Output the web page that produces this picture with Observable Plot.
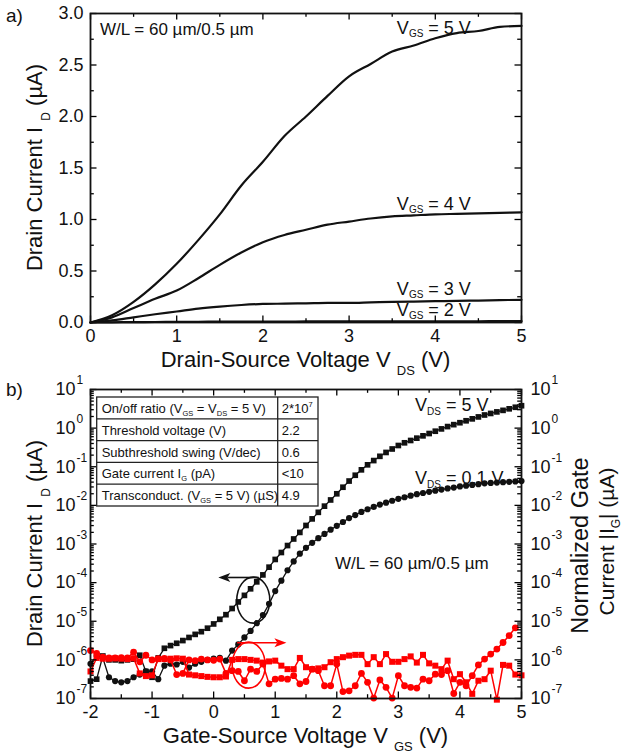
<!DOCTYPE html>
<html>
<head>
<meta charset="utf-8">
<script src="https://cdn.jsdelivr.net/npm/d3@7"></script>
<script src="https://cdn.jsdelivr.net/npm/@observablehq/plot@0.6"></script>
<style>
html,body{margin:0;padding:0;background:#fff;}
#wrap{width:622px;height:756px;overflow:hidden;background:#fff;}
#wrap svg{display:block;overflow:visible !important;}
</style>
</head>
<body>
<div id="wrap"></div>
<script>
const FONT = "'Liberation Sans', Arial, Helvetica, sans-serif";

// ---------------- panel a) output characteristics ----------------
const vds    = [0,0.25,0.5,0.75,1,1.25,1.5,1.75,2,2.25,2.5,2.75,3,3.25,3.5,3.75,4,4.25,4.5,4.75,5];
const idVgs5 = [0,0.07,0.2,0.37,0.57,0.8,1.05,1.33,1.56,1.81,2.0,2.2,2.39,2.51,2.63,2.69,2.76,2.81,2.83,2.87,2.88];
const idVgs4 = [0,0.05,0.14,0.23,0.31,0.43,0.56,0.68,0.78,0.85,0.9,0.95,0.98,1.01,1.03,1.04,1.05,1.055,1.06,1.065,1.07];
const idVgs3 = [0,0.02,0.05,0.08,0.107,0.135,0.155,0.17,0.18,0.183,0.186,0.19,0.19,0.195,0.2,0.203,0.207,0.21,0.213,0.217,0.22];
const idVgs2 = [0,0.002,0.004,0.005,0.006,0.007,0.008,0.008,0.009,0.009,0.01,0.01,0.01,0.011,0.011,0.011,0.012,0.012,0.012,0.013,0.013];
const aXTicks = [0,1,2,3,4,5];
const aXMinor = [0.5,1.5,2.5,3.5,4.5];
const aYTicks = [0,0.5,1,1.5,2,2.5,3];
const aYMinor = [0.25,0.75,1.25,1.75,2.25,2.75];
const aCurveLabels = [
  {vgs:"5", x:3.56, y:2.80},
  {vgs:"4", x:3.56, y:1.087},
  {vgs:"3", x:3.56, y:0.262},
  {vgs:"2", x:3.56, y:0.058}
];

// ---------------- panel b) transfer characteristics ----------------
const vgs = [-2.0,-1.9,-1.8,-1.7,-1.6,-1.5,-1.4,-1.3,-1.2,-1.1,-1.0,-0.9,-0.8,-0.7,-0.6,-0.5,-0.4,-0.3,-0.2,-0.1,
  0.0,0.1,0.2,0.3,0.4,0.5,0.6,0.7,0.8,0.9,1.0,1.1,1.2,1.3,1.4,1.5,1.6,1.7,1.8,1.9,
  2.0,2.1,2.2,2.3,2.4,2.5,2.6,2.7,2.8,2.9,3.0,3.1,3.2,3.3,3.4,3.5,3.6,3.7,3.8,3.9,
  4.0,4.1,4.2,4.3,4.4,4.5,4.6,4.7,4.8,4.9,5.0];
// log10 of current (µA)
const idVds5Exp = [-6.55,-6.5,-5.9,-6.0,-6.0,-6.02,-6.0,-5.98,-5.88,-6.3,-6.45,-5.95,-5.7,-5.63,-5.57,-5.5,-5.42,-5.34,-5.27,-5.18,
  -5.07,-4.95,-4.83,-4.67,-4.5,-4.33,-4.16,-3.98,-3.8,-3.6,-3.4,-3.22,-3.04,-2.87,-2.7,-2.52,-2.35,-2.18,-2.02,-1.86,
  -1.7,-1.53,-1.37,-1.22,-1.08,-0.95,-0.84,-0.73,-0.63,-0.54,-0.45,-0.38,-0.32,-0.26,-0.2,-0.14,-0.08,-0.02,0.04,0.09,
  0.14,0.19,0.24,0.29,0.34,0.38,0.42,0.46,0.5,0.54,0.58];
const idVds01Exp = [-6.1,-5.9,-5.95,-6.45,-6.55,-6.58,-6.55,-6.45,-6.38,-6.3,-6.3,-6.5,-6.15,-6.1,-6.12,-6.05,-6.2,-6.1,-6.05,-6.0,
  -5.97,-5.95,-6.02,-5.76,-5.6,-5.42,-5.25,-5.05,-4.84,-4.55,-4.22,-3.95,-3.68,-3.45,-3.25,-3.1,-2.97,-2.85,-2.74,-2.63,
  -2.53,-2.43,-2.33,-2.25,-2.17,-2.1,-2.04,-1.98,-1.93,-1.88,-1.83,-1.79,-1.75,-1.71,-1.68,-1.65,-1.62,-1.59,-1.56,-1.54,
  -1.51,-1.49,-1.47,-1.45,-1.43,-1.42,-1.41,-1.4,-1.39,-1.38,-1.37];
const igVds5Exp = [-6.3,-5.95,-5.97,-5.97,-5.96,-5.97,-5.98,-5.96,-6.35,-6.42,-6.4,-5.98,-5.98,-5.97,-5.96,-5.97,-6.38,-6.4,-6.42,-6.44,
  -6.45,-6.45,-6.43,-6.0,-5.98,-5.98,-6.0,-6.02,-6.07,-6.04,-6.02,-6.15,-6.24,-6.24,-5.95,-6.19,-6.24,-6.22,-6.19,-6.06,
  -5.98,-5.93,-5.89,-5.87,-5.87,-6.11,-5.93,-6.11,-5.85,-6.05,-6.05,-5.98,-5.91,-6.07,-5.87,-6.09,-6.15,-6.24,-6.02,-6.5,
  -6.37,-6.58,-6.88,-6.54,-6.5,-6.28,-7.03,-6.13,-6.15,-6.38,-6.4];
const igVds01Exp = [-5.76,-5.83,-5.93,-5.95,-5.95,-5.94,-5.95,-5.8,-6.05,-5.88,-6.0,-5.97,-5.96,-6.0,-6.38,-6.35,-6.0,-6.02,-5.98,-6.0,
  -6.01,-5.98,-6.35,-6.28,-6.3,-6.54,-6.24,-6.3,-6.11,-6.62,-6.5,-6.48,-6.5,-6.41,-6.62,-6.56,-6.24,-6.28,-6.67,-6.67,
  -6.11,-6.82,-6.8,-6.67,-6.35,-6.58,-6.99,-6.52,-6.71,-6.99,-6.41,-6.67,-6.71,-6.73,-6.5,-6.54,-6.37,-6.38,-6.28,-6.87,
  -6.58,-6.67,-6.41,-6.13,-5.98,-5.85,-5.72,-5.55,-5.37,-5.17,null];
const bXTicks = [-2,-1,0,1,2,3,4,5];
const bXMinor = [-1.5,-0.5,0.5,1.5,2.5,3.5,4.5];
const bDecades = [-7,-6,-5,-4,-3,-2,-1,0,1];
const bYMinor = [];
for (let k = -7; k < 1; k++) for (let m = 2; m <= 9; m++) bYMinor.push(m * Math.pow(10, k));

const tableRows = [
  [[{t:"On/off ratio (V"},{t:"GS",sub:1},{t:" = V"},{t:"DS",sub:1},{t:" = 5 V)"}], [{t:"2*10"},{t:"7",sup:1}]],
  [[{t:"Threshold voltage (V)"}], [{t:"2.2"}]],
  [[{t:"Subthreshold swing (V/dec)"}], [{t:"0.6"}]],
  [[{t:"Gate current I"},{t:"G",sub:1},{t:" (pA)"}], [{t:"<10"}]],
  [[{t:"Transconduct. (V"},{t:"GS",sub:1},{t:" = 5 V) (µS)"}], [{t:"4.9"}]]
];

// ---------------- helpers ----------------
const W = 622, ML = 90, MR = 101;
const RED = "#ff0000";

function boxTicks(xMaj, xMin, yMaj, yMin, pw, ph) {
  const L = 6.5, S = 3.8, o = {stroke: "#000", strokeWidth: 1.3};
  return [
    Plot.tickX(xMaj, {x: d => d, insetTop: ph - L, ...o}),
    Plot.tickX(xMaj, {x: d => d, insetBottom: ph - L, ...o}),
    Plot.tickX(xMin, {x: d => d, insetTop: ph - S, ...o}),
    Plot.tickX(xMin, {x: d => d, insetBottom: ph - S, ...o}),
    Plot.tickY(yMaj, {y: d => d, insetRight: pw - L, ...o}),
    Plot.tickY(yMaj, {y: d => d, insetLeft: pw - L, ...o}),
    Plot.tickY(yMin, {y: d => d, insetRight: pw - S, ...o}),
    Plot.tickY(yMin, {y: d => d, insetLeft: pw - S, ...o})
  ];
}

function scaleFn(chart, name) {
  const s = chart.scale(name);
  if (s && typeof s.apply === "function") return v => s.apply(v);
  const base = s.type === "log" ? d3.scaleLog() : d3.scaleLinear();
  return base.domain(s.domain).range(s.range);
}

function richText(g, parts, o) {
  const size = o.size, subSize = o.subSize || size * 0.6;
  const t = g.append("text")
    .attr("transform", `translate(${o.x},${o.y}) rotate(${o.rotate || 0})`)
    .attr("text-anchor", o.anchor || "start")
    .attr("font-family", FONT).attr("font-size", size)
    .attr("fill", o.fill || "#111")
    .style("white-space", "pre");
  let shift = 0;
  for (const p of parts) {
    const s = t.append("tspan").text(p.t);
    const target = p.sub ? (o.subShift != null ? o.subShift : size * 0.3)
                 : p.sup ? (o.supShift != null ? o.supShift : -size * 0.4) : 0;
    if (target - shift !== 0) s.attr("dy", target - shift);
    shift = target;
    if (p.sub || p.sup) s.attr("font-size", subSize);
    if (p.dx) s.attr("dx", p.dx);
  }
  return t;
}

function arrowHead(g, x1, y1, x2, y2, color) {
  const ang = Math.atan2(y2 - y1, x2 - x1);
  const L = 12, Wd = 4.6, notch = 3;
  const pts = [[0, 0], [-L, -Wd], [-L + notch, 0], [-L, Wd]].map(([a, b]) => [
    x2 + a * Math.cos(ang) - b * Math.sin(ang),
    y2 + a * Math.sin(ang) + b * Math.cos(ang)
  ]);
  g.append("line")
    .attr("x1", x1).attr("y1", y1)
    .attr("x2", x2 - (L - notch) * Math.cos(ang)).attr("y2", y2 - (L - notch) * Math.sin(ang))
    .attr("stroke", color).attr("stroke-width", 1.6);
  g.append("path").attr("d", "M" + pts.map(p => p.join(",")).join("L") + "Z").attr("fill", color);
}

const wrap = document.getElementById("wrap");

// ---------------- panel a ----------------
const aH = 380, aMT = 13, aMB = 58;
const aPW = W - ML - MR, aPH = aH - aMT - aMB;
const aData = [];
[["5", idVgs5], ["4", idVgs4], ["3", idVgs3], ["2", idVgs2]].forEach(([k, arr]) =>
  vds.forEach((x, i) => aData.push({x, y: arr[i], vgs: k})));

const chartA = Plot.plot({
  width: W, height: aH,
  marginLeft: ML, marginRight: MR, marginTop: aMT, marginBottom: aMB,
  style: {fontFamily: FONT, fontSize: "18px", background: "#fff", color: "#111", overflow: "visible"},
  x: {domain: [0, 5], ticks: aXTicks, tickSize: 0, tickPadding: 7, tickFormat: d => String(d), label: null},
  y: {domain: [0, 3], ticks: aYTicks, tickSize: 0, tickPadding: 7, tickFormat: d3.format(".1f"), label: null},
  marks: [
    Plot.line(aData, {x: "x", y: "y", z: "vgs", stroke: "#111", strokeWidth: 2.2, curve: "monotone-x"}),
    ...boxTicks(aXTicks, aXMinor, aYTicks, aYMinor, aPW, aPH),
    Plot.frame({stroke: "#111", strokeWidth: 1.8})
  ]
});
wrap.appendChild(chartA);
{
  const g = d3.select(chartA).append("g");
  const fx = scaleFn(chartA, "x"), fy = scaleFn(chartA, "y");
  richText(g, [{t: "a)"}], {x: 6, y: 22, size: 19});
  richText(g, [{t: "W/L = 60 µm/0.5 µm"}], {x: fx(0.116), y: fy(2.786), size: 17});
  for (const l of aCurveLabels) {
    richText(g, [{t: "V"}, {t: "GS", sub: 1}, {t: " = " + l.vgs + " V"}],
      {x: fx(l.x), y: fy(l.y), size: 18, subSize: 10, subShift: 3});
  }
  richText(g, [{t: "Drain-Source Voltage V "}, {t: "DS", sub: 1}, {t: " (V)"}],
    {x: ML + aPW / 2, y: 367, size: 22, subSize: 13, subShift: 8, anchor: "middle"});
  richText(g, [{t: "Drain Current I "}, {t: "D", sub: 1}, {t: " (µA)"}],
    {x: 42, y: aMT + aPH / 2, size: 22, subSize: 12, subShift: 8, anchor: "middle", rotate: -90});
}

// ---------------- panel b ----------------
const bH = 376, bMT = 9, bMB = 58;
const bPW = W - ML - MR, bPH = bH - bMT - bMB;
const mk = arr => vgs.map((x, i) => ({x, y: arr[i] == null ? null : Math.pow(10, arr[i])}));
const dSat = mk(idVds5Exp), dLin = mk(idVds01Exp), gSat = mk(igVds5Exp), gLin = mk(igVds01Exp);
const expLabel = d => d < 0 ? "-" + (-d) : String(d);

const chartB = Plot.plot({
  width: W, height: bH,
  marginLeft: ML, marginRight: MR, marginTop: bMT, marginBottom: bMB,
  style: {fontFamily: FONT, fontSize: "18px", background: "#fff", color: "#111", overflow: "visible"},
  x: {domain: [-2, 5], ticks: bXTicks, tickSize: 0, tickPadding: 7, tickFormat: d => d < 0 ? "-" + (-d) : String(d), label: null},
  y: {type: "log", domain: [1e-7, 10], axis: null},
  marks: [
    Plot.line(dSat, {x: "x", y: "y", stroke: "#111", strokeWidth: 1.3}),
    Plot.dot(dSat, {x: "x", y: "y", symbol: "square", r: 3.2, fill: "#111", stroke: "none"}),
    Plot.line(dLin, {x: "x", y: "y", stroke: "#111", strokeWidth: 1.3}),
    Plot.dot(dLin, {x: "x", y: "y", symbol: "circle", r: 3.1, fill: "#111", stroke: "none"}),
    Plot.line(gSat, {x: "x", y: "y", stroke: RED, strokeWidth: 1.5}),
    Plot.dot(gSat, {x: "x", y: "y", symbol: "square", r: 3.4, fill: RED, stroke: "none"}),
    Plot.line(gLin, {x: "x", y: "y", stroke: RED, strokeWidth: 1.5}),
    Plot.dot(gLin, {x: "x", y: "y", symbol: "circle", r: 3.4, fill: RED, stroke: "none"}),
    ...boxTicks(bXTicks, bXMinor, bDecades.map(d => Math.pow(10, d)), bYMinor, bPW, bPH),
    Plot.frame({stroke: "#111", strokeWidth: 1.8}),
    Plot.text(bDecades, {y: d => Math.pow(10, d), text: () => "10", frameAnchor: "left", textAnchor: "end", dx: -15, fontSize: 18}),
    Plot.text(bDecades, {y: d => Math.pow(10, d), text: expLabel, frameAnchor: "left", textAnchor: "start", dx: -14, dy: -9, fontSize: 12}),
    Plot.text(bDecades, {y: d => Math.pow(10, d), text: () => "10", frameAnchor: "right", textAnchor: "start", dx: 9, fontSize: 18}),
    Plot.text(bDecades, {y: d => Math.pow(10, d), text: expLabel, frameAnchor: "right", textAnchor: "start", dx: 30, dy: -9, fontSize: 12})
  ]
});
wrap.appendChild(chartB);
{
  const g = d3.select(chartB).append("g");
  const fx = scaleFn(chartB, "x"), fy = scaleFn(chartB, "y");
  richText(g, [{t: "b)"}], {x: 6, y: 16, size: 19});

  // table
  const tl = ML + 6.7, tt = bMT + 8, rh = 21.8, c1 = 181, c2 = 40.3;
  const tg = g.append("g");
  tg.append("rect").attr("x", tl).attr("y", tt).attr("width", c1 + c2).attr("height", rh * tableRows.length)
    .attr("fill", "#fff").attr("stroke", "#222").attr("stroke-width", 1.3);
  for (let i = 1; i < tableRows.length; i++)
    tg.append("line").attr("x1", tl).attr("x2", tl + c1 + c2).attr("y1", tt + rh * i).attr("y2", tt + rh * i)
      .attr("stroke", "#222").attr("stroke-width", 1.3);
  tg.append("line").attr("x1", tl + c1).attr("x2", tl + c1).attr("y1", tt).attr("y2", tt + rh * tableRows.length)
    .attr("stroke", "#222").attr("stroke-width", 1.3);
  tableRows.forEach((row, i) => {
    richText(tg, row[0], {x: tl + 5, y: tt + rh * i + 16, size: 13, subSize: 7.5, subShift: 2.5});
    richText(tg, row[1], {x: tl + c1 + 4, y: tt + rh * i + 16, size: 13, subSize: 7.5, supShift: -6});
  });

  richText(g, [{t: "V"}, {t: "DS", sub: 1}, {t: " = 5 V"}], {x: fx(3.28), y: fy(Math.pow(10, 0.43)), size: 18, subSize: 10, subShift: 4});
  richText(g, [{t: "V"}, {t: "DS", sub: 1}, {t: " = 0.1 V"}], {x: fx(3.28), y: fy(Math.pow(10, -1.47)), size: 18, subSize: 10, subShift: 4});
  richText(g, [{t: "W/L = 60 µm/0.5 µm"}], {x: fx(1.98), y: fy(Math.pow(10, -3.66)), size: 17});

  // ellipses & arrows
  g.append("ellipse").attr("cx", fx(0.652)).attr("cy", fy(Math.pow(10, -4.466))).attr("rx", 16.5).attr("ry", 23)
    .attr("fill", "none").attr("stroke", "#111").attr("stroke-width", 1.6);
  g.append("ellipse").attr("cx", fx(0.578)).attr("cy", fy(Math.pow(10, -6.15))).attr("rx", 16.5).attr("ry", 23)
    .attr("fill", "none").attr("stroke", RED).attr("stroke-width", 1.6);
  arrowHead(g, fx(0.74), fy(Math.pow(10, -3.88)), fx(0.084), fy(Math.pow(10, -3.88)), "#111");
  arrowHead(g, fx(0.39), fy(Math.pow(10, -5.57)), fx(1.19), fy(Math.pow(10, -5.57)), RED);

  richText(g, [{t: "Gate-Source Voltage V "}, {t: "GS", sub: 1}, {t: " (V)"}],
    {x: ML + bPW / 2, y: 363, size: 22, subSize: 13, subShift: 8, anchor: "middle"});
  richText(g, [{t: "Drain Current I "}, {t: "D", sub: 1}, {t: " (µA)"}],
    {x: 42, y: bMT + bPH / 2, size: 22, subSize: 12, subShift: 8, anchor: "middle", rotate: -90});
  richText(g, [{t: "Normalized Gate"}],
    {x: 588, y: bMT + bPH / 2 + 2, size: 23.5, anchor: "middle", rotate: -90});
  richText(g, [{t: "Current |I"}, {t: "G", sub: 1}, {t: "| (µA)"}],
    {x: 614, y: bMT + bPH / 2 - 2, size: 21, subSize: 12, subShift: 6, anchor: "middle", rotate: -90});
}
</script>
</body>
</html>
